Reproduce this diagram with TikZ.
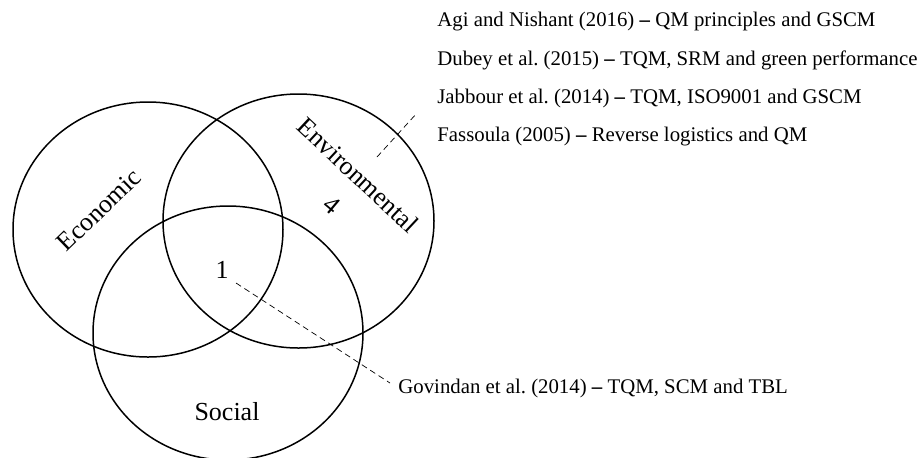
\documentclass[tikz,border=0pt]{standalone}
\usepackage{fontspec}
\setmainfont{Liberation Serif}
\usepackage{tikz}
\usetikzlibrary{positioning}

\begin{document}
\frenchspacing
\begin{tikzpicture}[x=0.5pt,y=-0.5pt]

	\tikzstyle{ring} = [draw,line width=0.75pt]
	\tikzstyle{leader} = [draw,densely dashed,line width=0.35pt]
	\tikzset{cite/.style = {anchor=west,inner sep=0pt,font=\fontsize{10.4}{12}\selectfont}}
	\tikzset{tag/.style = {inner sep=0pt,font=\fontsize{13}{15}\selectfont}}

	\useasboundingbox (0,0) rectangle (922,457);

	% the three circles
	\draw[ring] (148,229.5) ellipse (135 and 127.5);
	\draw[ring] (298.5,221) ellipse (135.5 and 127);
	\draw[ring] (228,333) ellipse (135 and 127);

	\node[tag,rotate=44] (econ) at (99,210) {Economic};
	\node[tag,rotate=-43] (env) at (358,175) {Environmental};
	\node[tag,rotate=-40] (four) at (332,205) {4};
	\node[tag] (one) at (222,270) {1};
	\node[tag] (soc) at (227,412) {Social};

	% references
	\node[cite] (agi) at (437,22) {Agi and Nishant (2016) \textbf{--} QM principles and GSCM};
	\node[cite] (dub) at (437,60) {Dubey et al. (2015) \textbf{--} TQM, SRM and green performance};
	\node[cite] (jab) at (437,98.5) {Jabbour et al. (2014) \textbf{--} TQM, ISO9001 and GSCM};
	\node[cite] (fas) at (437,137) {Fassoula (2005) \textbf{--} Reverse logistics and QM};
	\node[cite] (gov) at (398,388) {Govindan et al. (2014) \textbf{--} TQM, SCM and TBL};

	\coordinate (envin) at (377,157);
	\coordinate (envout) at (417,113);
	\coordinate (onein) at (236,283);
	\coordinate (oneout) at (390,383);

	\draw[leader] (envin) to (envout);
	\draw[leader] (onein) to (oneout);
\end{tikzpicture}
\end{document}
